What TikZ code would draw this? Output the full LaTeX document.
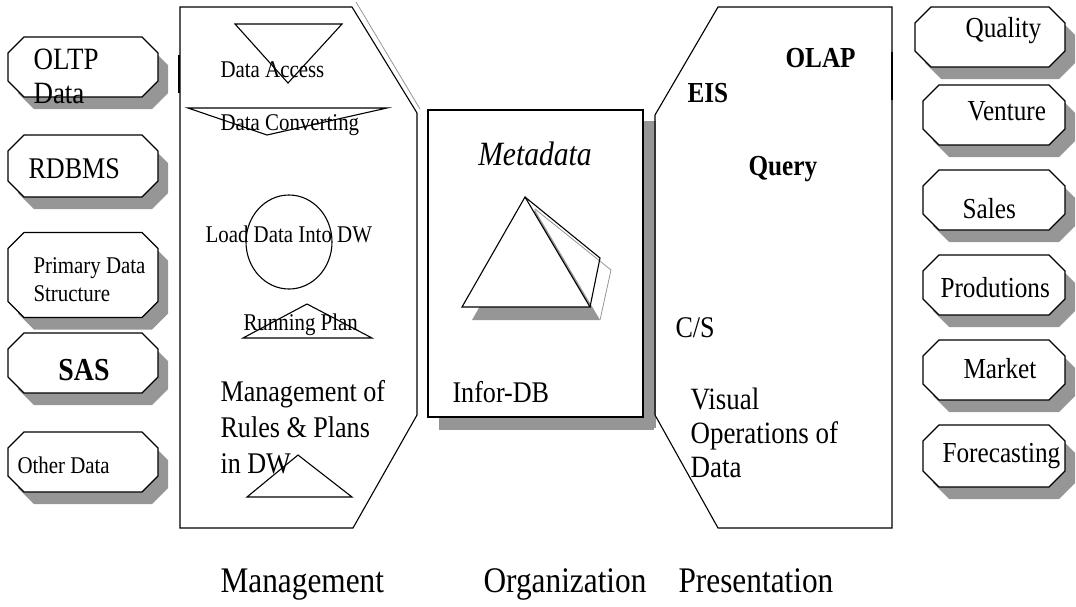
\documentclass[tikz,border=0pt]{standalone}
\usepackage{fontspec}
\setmainfont[FakeStretch=0.87]{Liberation Serif}
\definecolor{shadowgray}{RGB}{150,150,150}
\tikzset{
  txt/.style={inner sep=0pt, align=left},
  pics/chambox/.style n args={2}{code={
    \pgfmathsetmacro\hw{#1/2}
    \pgfmathsetmacro\hh{#2/2}
    \fill[shadowgray, shift={(10,12)}] (-\hw+16,-\hh) -- (\hw-16,-\hh) -- (\hw,-\hh+16) -- (\hw,\hh-16)
      -- (\hw-16,\hh) -- (-\hw+16,\hh) -- (-\hw,\hh-16) -- (-\hw,-\hh+16) -- cycle;
    \draw[fill=white] (-\hw+16,-\hh) -- (\hw-16,-\hh) -- (\hw,-\hh+16) -- (\hw,\hh-16)
      -- (\hw-16,\hh) -- (-\hw+16,\hh) -- (-\hw,\hh-16) -- (-\hw,-\hh+16) -- cycle;
    \node[inner sep=0pt, minimum width=#1, minimum height=#2] (-box) at (0,0) {};
  }},
}
\begin{document}
\begin{tikzpicture}[x=1pt,y=-1pt,line width=1.1pt]
\useasboundingbox (0,0) rectangle (1076,606);
% data sources
\pic (oltp) at (83,67) {chambox={150}{60}};
\pic (rdbms) at (83,166) {chambox={150}{62}};
\pic (primary) at (83,275) {chambox={150}{85}};
\pic (sas) at (83,363) {chambox={150}{60}};
\pic (other) at (83,462) {chambox={150}{60}};
\node[txt, font=\fontsize{31}{34}\selectfont, anchor=north west] (oltptxt) at (33,48) {OLTP\\Data};
\node[txt, font=\fontsize{30}{30}\selectfont, anchor=base west] (rdbmstxt) at (28,178) {RDBMS};
\node[txt, font=\fontsize{24}{28}\selectfont, anchor=north west] (primarytxt) at (33,257) {Primary Data\\Structure};
\node[txt, font=\fontsize{32}{30}\selectfont\bfseries, anchor=base] (sastxt) at (84,380) {SAS};
\node[txt, font=\fontsize{24}{26}\selectfont, anchor=base west] (othertxt) at (17,473) {Other Data};
% management
\draw (180,7) -- (352,7) -- (417,113) -- (417,415) -- (353,528) -- (180,528) -- cycle;
\draw[shadowgray, line width=0.8pt] (356,2) -- (420,109);
\draw[line width=2.4pt] (179,55) -- (179,93);
\draw (235,24) -- (342,24) -- (288,83) -- cycle;
\draw (188,108) -- (387,108) -- (267,135) -- cycle;
\draw (289,242) ellipse (43 and 47);
\draw (307,304) -- (372,338) -- (243,338) -- cycle;
\draw (298,455) -- (352,497) -- (247,497) -- cycle;
\node[txt, font=\fontsize{24}{26}\selectfont, anchor=base west] (access) at (220,77) {Data Access};
\node[txt, font=\fontsize{24}{26}\selectfont, anchor=base west] (convert) at (220,130) {Data Converting};
\node[txt, font=\fontsize{24}{26}\selectfont, anchor=base west] (load) at (205,242) {Load Data Into DW};
\node[txt, font=\fontsize{24}{26}\selectfont, anchor=base west] (running) at (243,330) {Running Plan};
\node[txt, font=\fontsize{30}{36}\selectfont, anchor=north west] (rules) at (220,380) {Management of\\Rules \& Plans\\in DW};
% organization
\node[draw, fill=white, minimum width=215pt, minimum height=307pt, inner sep=0pt] (org) at (535.5,263.5) {};
\fill[shadowgray] (org.north east) ++(0,12) rectangle ++(12,307);
\fill[shadowgray] (org.south west) ++(12,0) rectangle ++(215,12);
\node[txt, font=\fontsize{34}{36}\selectfont\itshape, anchor=base] (meta) at (535,165) {Metadata};
\fill[shadowgray] (535,210) -- (472,320) -- (600,320) -- cycle;
\draw[shadowgray, line width=0.8pt] (535,209) -- (611,270) -- (600,320);
\draw[fill=white] (525,197) -- (462,307) -- (590,307) -- cycle;
\draw (525,197) -- (600,258) -- (590,307);
\node[txt, font=\fontsize{30}{30}\selectfont, anchor=base west] (infordb) at (452,402) {Infor-DB};
% presentation
\draw (718,7) -- (892,7) -- (892,528) -- (718,528) -- (655,415) -- (655,115) -- cycle;
\draw[line width=2.4pt] (892,52) -- (892,100);
\node[txt, font=\fontsize{29}{30}\selectfont\bfseries, anchor=base west] (olap) at (785,67) {OLAP};
\node[txt, font=\fontsize{29}{30}\selectfont\bfseries, anchor=base west] (eis) at (687,102) {EIS};
\node[txt, font=\fontsize{29}{30}\selectfont\bfseries, anchor=base west] (query) at (748,175) {Query};
\node[txt, font=\fontsize{30}{30}\selectfont, anchor=base west] (cs) at (675,337) {C/S};
\node[txt, font=\fontsize{31}{34}\selectfont, anchor=north west] (visual) at (690,387) {Visual\\Operations of\\Data};
% uses
\pic (quality) at (990,37) {chambox={150}{60}};
\pic (venture) at (994,115) {chambox={142}{60}};
\pic (sales) at (994,200) {chambox={142}{60}};
\pic (prod) at (994,285) {chambox={142}{60}};
\pic (market) at (994,370) {chambox={142}{60}};
\pic (fore) at (994,456) {chambox={142}{62}};
\node[txt, font=\fontsize{29}{30}\selectfont, anchor=base west] (qualitytxt) at (965,37) {Quality};
\node[txt, font=\fontsize{29}{30}\selectfont, anchor=base west] (venturetxt) at (967,120) {Venture};
\node[txt, font=\fontsize{29}{30}\selectfont, anchor=base west] (salestxt) at (962,218) {Sales};
\node[txt, font=\fontsize{29}{30}\selectfont, anchor=base west] (prodtxt) at (940,297) {Produtions};
\node[txt, font=\fontsize{29}{30}\selectfont, anchor=base west] (markettxt) at (963,378) {Market};
\node[txt, font=\fontsize{29}{30}\selectfont, anchor=base west] (foretxt) at (942,462) {Forecasting};
% layer labels
\node[txt, font=\fontsize{36}{36}\selectfont, anchor=base west] (lmanage) at (220,592) {Management};
\node[txt, font=\fontsize{36}{36}\selectfont, anchor=base west] (lorg) at (483,592) {Organization};
\node[txt, font=\fontsize{36}{36}\selectfont, anchor=base west] (lpres) at (678,592) {Presentation};
\end{tikzpicture}
\end{document}
